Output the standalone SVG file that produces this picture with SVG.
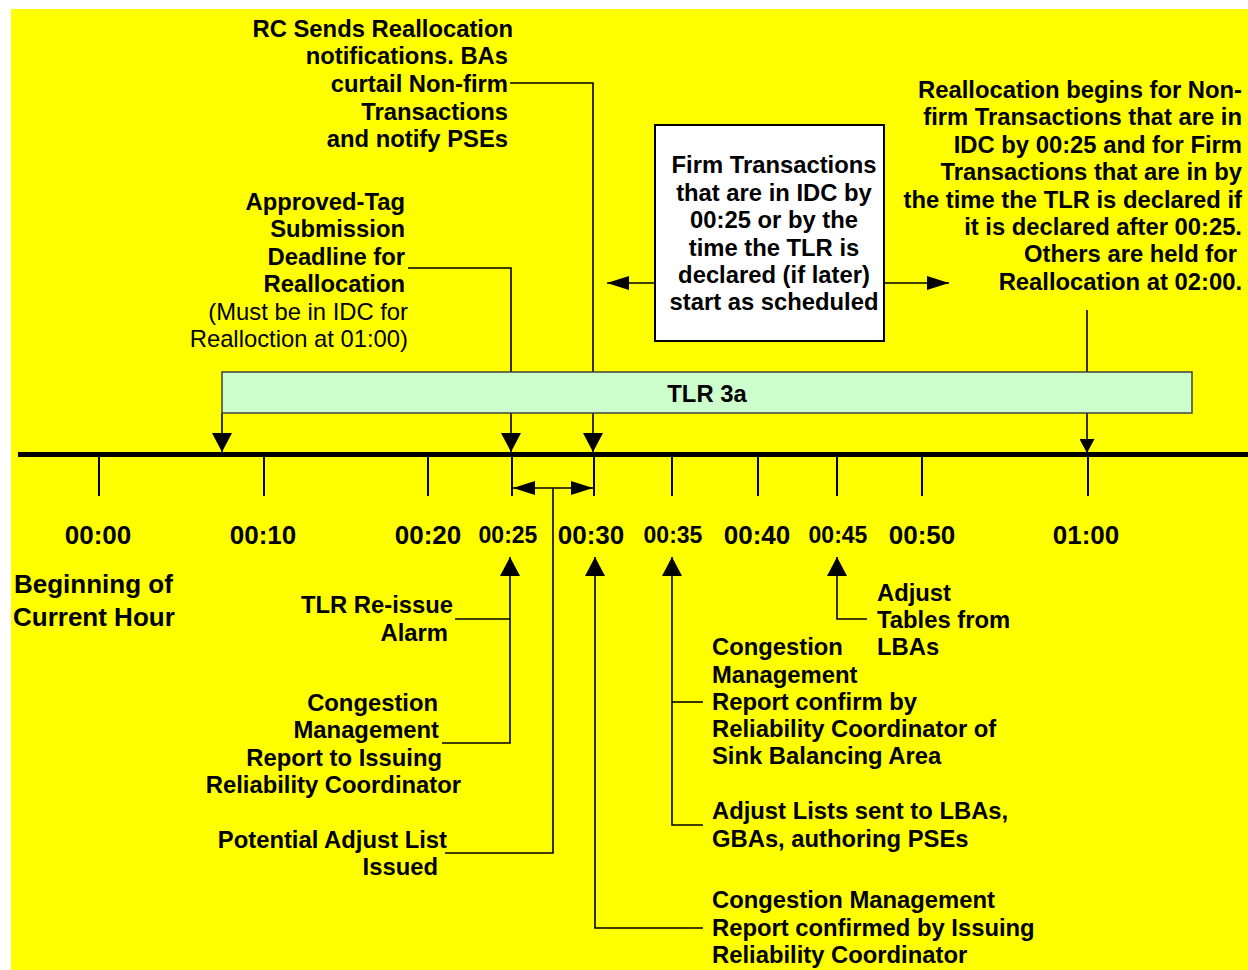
<svg xmlns="http://www.w3.org/2000/svg" width="1248" height="970" viewBox="0 0 1248 970">
<style>
text{font-family:"Liberation Sans",Arial,sans-serif;fill:#000}
.b{font-weight:bold;font-size:23.8px}
.r{font-weight:normal;font-size:23.8px}
.e{text-anchor:end}
.m{text-anchor:middle}
.t{font-weight:bold;font-size:26px;text-anchor:middle}
.ts{font-weight:bold;font-size:23px;text-anchor:middle}
.big{font-weight:bold;font-size:26px}
.ln{stroke:#000;stroke-width:1.6;fill:none}
.tk{stroke:#000;stroke-width:2;fill:none}
</style>
<defs>
<marker id="aL" viewBox="0 0 19 20" refX="19" refY="10" markerWidth="19" markerHeight="20" markerUnits="userSpaceOnUse" orient="auto-start-reverse"><path d="M0,0 L19,10 L0,20 z" fill="#000"/></marker>
<marker id="aT" viewBox="0 0 22 14" refX="22" refY="7" markerWidth="22" markerHeight="14" markerUnits="userSpaceOnUse" orient="auto-start-reverse"><path d="M0,0 L22,7 L0,14 z" fill="#000"/></marker>
<marker id="aM" viewBox="0 0 14 15" refX="14" refY="7.5" markerWidth="14" markerHeight="15" markerUnits="userSpaceOnUse" orient="auto-start-reverse"><path d="M0,0 L14,7.5 L0,15 z" fill="#000"/></marker>
</defs>
<rect x="0" y="0" width="1248" height="970" fill="#fff"/>
<rect x="11" y="9" width="1237" height="961" fill="#ffff00"/>

<g id="connectors">
<polyline class="ln" points="510,83 593,83 593,452" marker-end="url(#aL)"/>
<polyline class="ln" points="408,268 511,268 511,452" marker-end="url(#aL)"/>
<line class="ln" x1="1087" y1="310" x2="1087" y2="453" marker-end="url(#aM)"/>
<line class="ln" x1="222" y1="413" x2="222" y2="452" marker-end="url(#aL)"/>
<line class="ln" x1="655" y1="283" x2="607" y2="283" marker-end="url(#aT)"/>
<line class="ln" x1="884" y1="283" x2="949" y2="283" marker-end="url(#aT)"/>
<line class="ln" x1="513" y1="488" x2="593" y2="488" marker-start="url(#aT)" marker-end="url(#aT)"/>
<polyline class="ln" points="445,853 553,853 553,488"/>
<polyline class="ln" points="455,619 510,619"/>
<polyline class="ln" points="442,743 510,743 510,557" marker-end="url(#aL)"/>
<polyline class="ln" points="703,928 595,928 595,557" marker-end="url(#aL)"/>
<polyline class="ln" points="703,825 672,825 672,557" marker-end="url(#aL)"/>
<line class="ln" x1="672" y1="702" x2="703" y2="702"/>
<polyline class="ln" points="867,619 837,619 837,557" marker-end="url(#aL)"/>
</g>

<g id="axis">
<line x1="18" y1="454.5" x2="1248" y2="454.5" stroke="#000" stroke-width="5"/>
<path class="tk" d="M99,455V496 M264,455V496 M428,455V496 M512,455V496 M594,455V496 M672,455V496 M758,455V496 M837,455V496 M922,455V496 M1088,455V496"/>
<text class="t" x="98" y="544">00:00</text>
<text class="t" x="263" y="544">00:10</text>
<text class="t" x="428" y="544">00:20</text>
<text class="ts" x="508" y="543">00:25</text>
<text class="t" x="591" y="544">00:30</text>
<text class="ts" x="673" y="543">00:35</text>
<text class="t" x="757" y="544">00:40</text>
<text class="ts" x="838" y="543">00:45</text>
<text class="t" x="922" y="544">00:50</text>
<text class="t" x="1086" y="544">01:00</text>
</g>

<g id="tlr3a">
<rect x="222" y="372" width="970" height="41" fill="#ccffcc" stroke="#404040" stroke-width="1.5"/>
<text class="b m" x="707" y="402">TLR 3a</text>
</g>

<g id="rcSends">
<text class="b e" x="513" y="36.5">RC Sends Reallocation</text>
<text class="b e" x="508" y="64">notifications. BAs</text>
<text class="b e" x="508" y="92">curtail Non-firm</text>
<text class="b e" x="508" y="119.5">Transactions</text>
<text class="b e" x="508" y="147">and notify PSEs</text>
</g>

<g id="approvedTag">
<text class="b e" x="405" y="210">Approved-Tag</text>
<text class="b e" x="405" y="237.4">Submission</text>
<text class="b e" x="405" y="264.8">Deadline for</text>
<text class="b e" x="405" y="292.2">Reallocation</text>
<text class="r e" x="408" y="319.6">(Must be in IDC for</text>
<text class="r e" x="408" y="347">Realloction at 01:00)</text>
</g>

<g id="firmBox">
<rect x="655" y="125" width="229" height="216" fill="#fff" stroke="#000" stroke-width="2"/>
<text class="b m" x="774" y="173">Firm Transactions</text>
<text class="b m" x="774" y="200.5">that are in IDC by</text>
<text class="b m" x="774" y="228">00:25 or by the</text>
<text class="b m" x="774" y="255.5">time the TLR is</text>
<text class="b m" x="774" y="283">declared (if later)</text>
<text class="b m" x="774" y="310">start as scheduled</text>
</g>

<g id="reallocBegins">
<text class="b e" x="1242" y="98">Reallocation begins for Non-</text>
<text class="b e" x="1242" y="125.4">firm Transactions that are in</text>
<text class="b e" x="1242" y="152.8">IDC by 00:25 and for Firm</text>
<text class="b e" x="1242" y="180.2">Transactions that are in by</text>
<text class="b e" x="1242" y="207.6">the time the TLR is declared if</text>
<text class="b e" x="1242" y="235">it is declared after 00:25.</text>
<text class="b e" x="1237" y="262.4">Others are held for</text>
<text class="b e" x="1242" y="289.8">Reallocation at 02:00.</text>
</g>

<g id="beginning">
<text class="big" x="14" y="593">Beginning of</text>
<text class="big" x="13" y="626">Current Hour</text>
</g>

<g id="tlrReissue">
<text class="b e" x="453" y="613">TLR Re-issue</text>
<text class="b e" x="448" y="641">Alarm</text>
</g>

<g id="cmReportIssuing">
<text class="b e" x="438" y="711">Congestion</text>
<text class="b e" x="439" y="738">Management</text>
<text class="b e" x="442" y="766">Report to Issuing</text>
<text class="b e" x="461" y="793">Reliability Coordinator</text>
</g>

<g id="potentialAdjust">
<text class="b e" x="447" y="848">Potential Adjust List</text>
<text class="b e" x="438" y="875">Issued</text>
</g>

<g id="adjustTables">
<text class="b" x="877" y="601">Adjust</text>
<text class="b" x="877" y="628">Tables from</text>
<text class="b" x="877" y="655">LBAs</text>
</g>

<g id="cmReportSink">
<text class="b" x="712" y="655">Congestion</text>
<text class="b" x="712" y="683">Management</text>
<text class="b" x="712" y="710">Report confirm by</text>
<text class="b" x="712" y="737">Reliability Coordinator of</text>
<text class="b" x="712" y="764">Sink Balancing Area</text>
</g>

<g id="adjustLists">
<text class="b" x="712" y="819">Adjust Lists sent to LBAs,</text>
<text class="b" x="712" y="847">GBAs, authoring PSEs</text>
</g>

<g id="cmConfirmed">
<text class="b" x="712" y="908">Congestion Management</text>
<text class="b" x="712" y="936">Report confirmed by Issuing</text>
<text class="b" x="712" y="963">Reliability Coordinator</text>
</g>
</svg>
